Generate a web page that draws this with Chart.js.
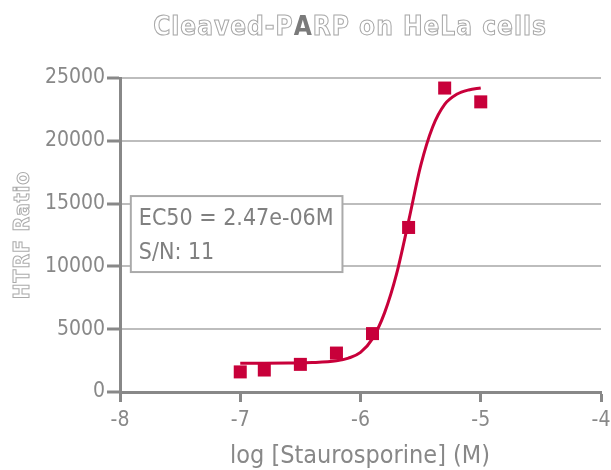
<!DOCTYPE html>
<html>
<head>
<meta charset="utf-8">
<script src="https://cdn.jsdelivr.net/npm/chart.js@4"></script>
<style>
  html, body { margin: 0; padding: 0; background: #fff; }
  #wrap { width: 611px; height: 470px; }
</style>
</head>
<body>
<div id="wrap"><canvas id="chart" width="611" height="470"></canvas></div>
<script>
// measured points (log M, HTRF ratio)
const doseLog = [-7.0, -6.8, -6.5, -6.2, -5.9, -5.6, -5.3, -5.0];
const htrf = [1600, 1750, 2200, 3100, 4650, 13100, 24200, 23100];

// fitted curve
const fitLog = [-7.0, -6.8, -6.6, -6.4, -6.2, -6.1, -6.0, -5.9, -5.8, -5.7, -5.6, -5.5, -5.4, -5.3, -5.2, -5.1, -5.0];
const fitVal = [2280, 2290, 2310, 2340, 2480, 2700, 3150, 4250, 6300, 9400, 13600, 18000, 21100, 22900, 23700, 24050, 24200];

const xTicks = [-8, -7, -6, -5, -4];
const yTicks = [0, 5000, 10000, 15000, 20000, 25000];

const boxLines = ["EC50 = 2.47e-06M", "S/N: 11"];
const titleParts = ["Cleaved-P", "A", "RP on HeLa cells"];
const yTitle = "HTRF Ratio";
const xTitle = "log [Staurosporine] (M)";

const RED = "#c8003a";
const GREY = "#888888";
const FONT = "'DejaVu Sans Condensed', 'Liberation Sans Narrow', 'Roboto', sans-serif";

/* ===========================================
        TITLES (outlined text, like the ref)
=========================================== */
const titlesPlugin = {
  id: "titles",
  afterDraw(chart) {
    const ctx = chart.ctx;
    ctx.save();
    ctx.letterSpacing = "1px";
    ctx.font = "bold 26px " + FONT;
    ctx.textBaseline = "middle";
    ctx.textAlign = "left";
    const widths = titleParts.map(t => ctx.measureText(t).width);
    const total = widths.reduce((a, b) => a + b, 0);
    let x = 350 - total / 2;
    titleParts.forEach((t, i) => {
      if (t === "A") {
        ctx.fillStyle = "#7a7a7a";
        ctx.fillText(t, x, 28);
      } else {
        ctx.strokeStyle = "#a8a8a8";
        ctx.lineWidth = 1;
        ctx.strokeText(t, x, 28);
      }
      x += widths[i];
    });

    // y title, rotated and outlined
    ctx.translate(24, 235);
    ctx.rotate(-Math.PI / 2);
    ctx.textAlign = "center";
    ctx.font = "bold 21px " + FONT;
    ctx.strokeStyle = "#aaa";
    ctx.lineWidth = 1;
    ctx.strokeText(yTitle, 0, 0);
    ctx.restore();

    // x title
    ctx.save();
    ctx.font = "25px " + FONT;
    ctx.fillStyle = GREY;
    ctx.textAlign = "center";
    ctx.textBaseline = "middle";
    ctx.fillText(xTitle, 360, 456);
    ctx.restore();
  }
};

/* ===========================================
            EC50 BOX (anchored to scales)
=========================================== */
const boxPlugin = {
  id: "ec50box",
  afterDatasetsDraw(chart) {
    const { ctx, scales } = chart;
    const x0 = scales.x.getPixelForValue(-7.91);
    const x1 = scales.x.getPixelForValue(-6.15);
    const y0 = scales.y.getPixelForValue(15600);
    const y1 = scales.y.getPixelForValue(9550);
    ctx.save();
    ctx.fillStyle = "#fff";
    ctx.fillRect(x0, y0, x1 - x0, y1 - y0);
    ctx.strokeStyle = "#aaa";
    ctx.lineWidth = 2;
    ctx.strokeRect(x0, y0, x1 - x0, y1 - y0);
    ctx.font = "23px " + FONT;
    ctx.fillStyle = "#808080";
    ctx.textBaseline = "middle";
    ctx.fillText(boxLines[0], x0 + 8, y0 + 23);
    ctx.fillText(boxLines[1], x0 + 8, y0 + 57);
    ctx.restore();
  }
};

new Chart(document.getElementById("chart"), {
  type: "scatter",
  data: {
    datasets: [
      {
        type: "line",
        data: fitLog.map((x, i) => ({ x, y: fitVal[i] })),
        borderColor: RED,
        borderWidth: 3,
        pointRadius: 0,
        cubicInterpolationMode: "monotone",
        fill: false
      },
      {
        data: doseLog.map((x, i) => ({ x, y: htrf[i] })),
        pointStyle: "rect",
        pointRadius: 9.2,
        backgroundColor: RED,
        borderColor: RED,
        borderWidth: 0
      }
    ]
  },
  plugins: [titlesPlugin, boxPlugin],
  options: {
    responsive: false,
    animation: false,
    layout: { padding: { top: 78, right: 0, left: 0, bottom: 0 } },
    plugins: {
      legend: { display: false },
      tooltip: { enabled: false }
    },
    scales: {
      x: {
        type: "linear",
        min: -8,
        max: -4,
        afterBuildTicks: s => { s.ticks = xTicks.map(v => ({ value: v })); },
        afterFit: s => {
          s.height = 78;
          s.paddingLeft = 0;
          s.paddingRight = 10;
        },
        border: { display: true, color: GREY, width: 3 },
        grid: {
          drawOnChartArea: false,
          tickColor: GREY,
          tickWidth: 3,
          tickLength: 10
        },
        ticks: {
          color: GREY,
          font: { family: FONT, size: 21 },
          padding: 6,
          maxRotation: 0
        }
      },
      y: {
        min: 0,
        max: 25000,
        afterBuildTicks: s => { s.ticks = yTicks.map(v => ({ value: v })); },
        afterFit: s => { s.width = 120; },
        border: { display: true, color: GREY, width: 3 },
        grid: {
          color: "#bdbdbd",
          lineWidth: 2,
          tickColor: GREY,
          tickWidth: 3,
          tickLength: 13
        },
        ticks: {
          color: GREY,
          font: { family: FONT, size: 21 },
          padding: 2,
          callback: v => String(v)
        }
      }
    }
  }
});
</script>
</body>
</html>
